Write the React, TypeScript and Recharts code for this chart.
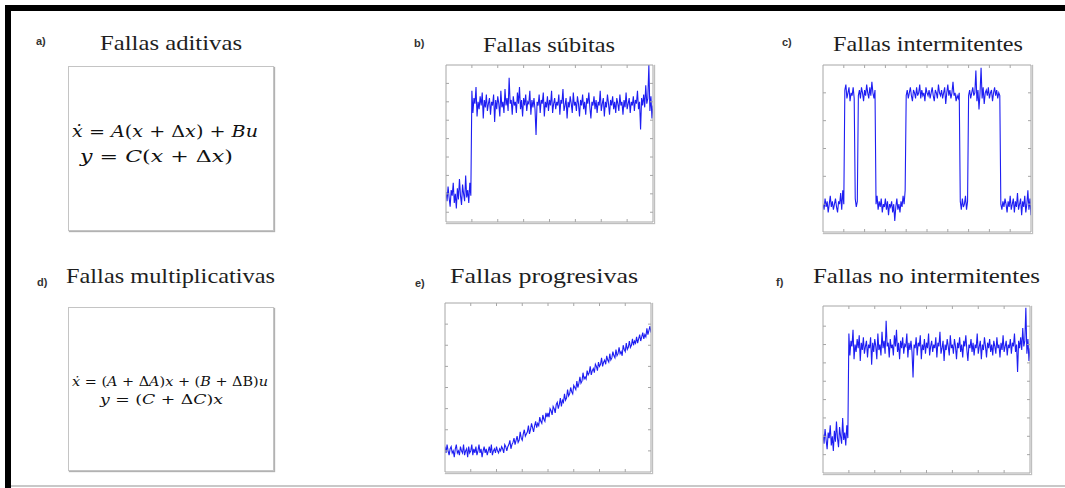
import { LineChart, Line, XAxis, YAxis } from 'recharts';

// b) / f) sudden fault: low level up to t = 1, then high level
const SUDDEN_LOW = [
  2.1, 1.6, 2.4, 1.8, 1.3, 2.2, 1.9, 2.6, 1.5, 2.0, 1.2, 2.3, 1.7, 2.8, 1.9, 1.4, 2.5, 2.0, 1.6, 3.0, 1.8, 2.2, 1.5, 2.6, 1.9,
];
const SUDDEN_HIGH = [
  7.6, 6.4, 7.2, 6.9, 7.8, 6.2, 7.0, 6.6, 7.3, 6.8, 7.5, 6.1, 7.1, 6.7, 7.4, 6.5, 6.9, 7.2, 6.3, 7.0,
  6.8, 7.4, 5.9, 7.1, 6.6, 7.3, 6.9, 6.2, 7.6, 6.7, 7.0, 6.4, 7.7, 6.8, 7.2, 6.5, 8.3, 6.9, 7.1, 6.3,
  7.3, 6.8, 7.0, 6.4, 7.5, 6.9, 7.8, 6.6, 7.1, 6.2, 7.2, 6.8, 7.4, 6.5, 7.0, 6.9, 7.6, 6.3, 7.1, 6.7,
  7.2, 6.6, 5.2, 7.0, 6.8, 7.4, 6.4, 7.1, 6.9, 7.5, 6.2, 7.0, 6.7, 7.3, 6.5, 7.1, 6.8, 7.6, 6.4, 6.9,
  7.2, 6.6, 7.0, 6.8, 7.4, 6.3, 7.1, 6.9, 7.7, 6.5, 6.8, 7.2, 6.1, 7.0, 6.7, 7.3, 6.9, 6.4, 7.5, 6.8,
  7.0, 6.5, 7.3, 6.9, 6.2, 7.1, 6.8, 7.4, 6.6, 7.0, 6.3, 7.2, 6.9, 7.5, 6.7, 6.1, 7.0, 6.8, 7.3, 6.6,
  7.1, 6.4, 7.0, 6.8, 7.6, 6.5, 6.9, 7.2, 6.2, 7.0, 6.7, 7.4, 6.9, 6.3, 7.1, 6.8, 7.3, 6.6, 7.0, 6.4,
  7.2, 6.9, 6.5, 7.4, 6.8, 7.0, 6.3, 7.1, 6.7, 7.5, 6.6, 6.9, 7.2, 6.4, 7.0, 6.8, 7.3, 6.5, 7.1, 6.9,
  7.6, 6.6, 7.0, 5.5, 7.2, 6.8, 7.4, 6.7, 7.9, 6.9, 7.2, 9.0, 6.5, 7.3, 6.1, 6.8,
];
const suddenValues = [...SUDDEN_LOW, ...SUDDEN_HIGH];

// c) intermittent fault, segment by segment
const INT_LOW_1 = [1.0, 0.8, 1.2, 0.9, 1.1, 0.7, 1.0, 1.3, 0.9, 1.1, 0.8, 1.0, 1.2, 0.9, 0.7, 1.1, 1.0, 1.4, 0.8, 1.5, 1.0];
const INT_HIGH_1 = [5.1, 5.3, 4.8, 5.0, 5.2, 4.7, 5.0, 4.9, 5.2, 4.8];
const INT_BLIP_1 = [1.2, 0.9, 1.1];
const INT_HIGH_2 = [4.9, 5.1, 4.8, 5.2, 5.0, 4.7, 5.1, 4.9, 5.3, 5.0, 4.8, 5.2, 4.9, 5.4, 5.0, 4.8, 5.1];
const INT_LOW_2 = [
  1.0, 1.3, 0.8, 1.1, 0.9, 1.2, 0.7, 1.0, 0.9, 1.2, 0.8, 1.1, 0.6, 1.0, 0.9, 1.1, 0.7, 1.0, 0.4, 0.9,
  1.2, 0.8, 1.0, 0.7, 1.1, 0.9, 1.3, 1.0, 1.5,
];
const INT_HIGH_3 = [
  4.9, 5.1, 4.8, 5.0, 5.2, 4.9, 4.7, 5.1, 5.0, 4.8, 5.2, 4.9, 5.0, 5.3, 4.8, 5.1, 4.9, 5.0, 4.7, 5.2,
  5.0, 4.9, 5.1, 4.8, 5.0, 5.2, 4.9, 4.7, 5.1, 5.0, 4.8, 5.3, 5.0, 4.9, 5.1, 4.8, 5.0, 5.2, 4.6, 5.0,
  5.3, 4.9, 5.1, 4.8, 5.0, 5.4, 4.9, 5.0, 4.7, 4.9, 4.8, 5.0,
];
const INT_BLIP_2 = [1.1, 0.8, 1.2, 0.9, 1.0, 1.3, 0.8, 1.1];
const INT_HIGH_4 = [
  4.9, 5.1, 4.8, 5.0, 5.2, 4.9, 5.0, 5.8, 4.7, 5.1, 4.4, 5.0, 5.9, 4.8, 5.2, 4.6, 5.0, 5.1, 4.9, 5.2,
  4.8, 5.0, 5.1, 4.7, 5.0, 5.2, 4.9, 5.1, 4.8, 5.0, 4.9,
];
const INT_LOW_4 = [
  1.0, 0.8, 1.1, 0.9, 1.2, 1.0, 0.7, 1.1, 0.9, 1.3, 0.8, 1.0, 1.2, 0.7, 1.1, 0.9, 1.4, 0.8, 1.0, 1.2,
  0.6, 1.1, 0.9, 1.3, 0.7, 1.0, 1.5, 0.8, 1.2, 0.6,
];
const intermittentValues = [
  ...INT_LOW_1, ...INT_HIGH_1, ...INT_BLIP_1, ...INT_HIGH_2, ...INT_LOW_2,
  ...INT_HIGH_3, ...INT_BLIP_2, ...INT_HIGH_4, ...INT_LOW_4,
];

// e) progressive fault
const progressiveValues = [
  1.2, 0.9, 1.3, 1.0, 0.8, 1.1, 1.2, 0.9, 1.0, 0.7,
  1.1, 1.3, 0.9, 1.0, 0.8, 1.2, 1.0, 0.9, 1.3, 0.8,
  1.0, 1.1, 0.7, 1.2, 0.9, 1.0, 1.3, 0.8, 1.1, 0.9,
  1.2, 0.8, 1.0, 1.3, 0.9, 1.1, 0.7, 1.0, 1.2, 0.9,
  1.1, 0.8, 1.0, 1.2, 0.9, 1.3, 0.8, 1.0, 1.1, 0.9,
  1.2, 1.0, 0.9, 1.1, 1.0, 1.2, 1.1, 0.9, 1.3, 1.2,
  1.0, 1.2, 1.3, 1.5, 1.1, 1.3, 1.4, 1.6, 1.3, 1.5,
  1.7, 1.4, 1.5, 1.9, 1.6, 1.5, 1.8, 2.0, 1.7, 1.8,
  1.9, 2.2, 1.8, 2.0, 2.3, 2.1, 1.9, 2.2, 2.4, 2.1,
  2.3, 2.2, 2.6, 2.4, 2.3, 2.7, 2.5, 2.4, 2.8, 2.6,
  2.8, 2.6, 3.0, 2.9, 2.7, 3.1, 3.0, 2.8, 3.2, 3.3,
  3.0, 3.2, 3.5, 3.1, 3.4, 3.3, 3.7, 3.4, 3.5, 3.9,
  3.6, 3.7, 4.0, 3.8, 3.7, 4.1, 4.0, 3.9, 4.3, 4.0,
  4.2, 4.5, 4.2, 4.3, 4.7, 4.4, 4.5, 4.4, 4.8, 4.6,
  4.7, 5.0, 4.6, 4.8, 4.9, 4.7, 5.1, 5.0, 4.8, 5.2,
  5.0, 5.1, 5.4, 5.0, 5.2, 5.3, 5.1, 5.5, 5.3, 5.2,
  5.6, 5.3, 5.4, 5.7, 5.5, 5.4, 5.8, 5.5, 5.6, 5.9,
  5.6, 5.7, 5.5, 6.0, 5.8, 5.7, 6.1, 5.8, 5.9, 6.2,
  5.9, 6.0, 6.3, 6.0, 6.2, 6.1, 6.4, 6.1, 6.3, 6.5,
  6.2, 6.4, 6.6, 6.3, 6.5, 6.4, 6.8, 6.5, 6.7, 6.9,
  6.6,
];

const TICKS_8 = [1, 2, 3, 4, 5, 6, 7];
const TICKS_10 = [1, 2, 3, 4, 5, 6, 7, 8, 9];
const Y_TICKS_SUDDEN = [1, 2, 3, 4, 5, 6, 7, 8];
const Y_TICKS_INT = [1, 2, 3, 4, 5];
const Y_TICKS_PROG = [1, 2, 3, 4, 5, 6, 7];

const BLUE = '#1e1ef2';
const AXIS = '#a6a6a6';

const EmptyTick = () => <g />;

function SignalPanel({ left, top, width, height, values, xMax, yDomain, xTicks, yTicks }) {
  const step = xMax / (values.length - 1);
  const rows = values.map((v, i) => ({ t: i * step, v }));
  const axisProps = {
    tick: EmptyTick,
    tickSize: 3,
    mirror: true,
    stroke: AXIS,
    allowDataOverflow: true,
    interval: 0,
  };
  return (
    <div
      style={{
        position: 'absolute',
        left: left - 1,
        top: top - 1,
        boxShadow: '1px 1px 1px rgba(0,0,0,0.25)',
      }}
    >
      <LineChart width={width + 2} height={height + 2} data={rows} margin={{ top: 1, right: 1, bottom: 1, left: 1 }}>
        <XAxis xAxisId="b" dataKey="t" type="number" domain={[0, xMax]} ticks={xTicks} {...axisProps} />
        <XAxis xAxisId="t" orientation="top" dataKey="t" type="number" domain={[0, xMax]} ticks={xTicks} {...axisProps} />
        <YAxis yAxisId="l" type="number" domain={yDomain} ticks={yTicks} {...axisProps} />
        <YAxis yAxisId="r" orientation="right" type="number" domain={yDomain} ticks={yTicks} {...axisProps} />
        <Line
          xAxisId="b"
          yAxisId="l"
          type="linear"
          dataKey="v"
          stroke={BLUE}
          strokeWidth={1.1}
          dot={false}
          isAnimationActive={false}
        />
      </LineChart>
    </div>
  );
}

function EqBox({ left, top, width, height }) {
  return (
    <div
      style={{
        position: 'absolute',
        left,
        top,
        width,
        height,
        boxSizing: 'border-box',
        border: '1px solid #c4c4c4',
        boxShadow: '1px 1px 1px rgba(0,0,0,0.3)',
      }}
    />
  );
}

const titleFont = { fontFamily: '"Liberation Serif", serif', fontSize: 21, fill: '#1e1e1e' };
const tagFont = { fontFamily: '"Liberation Sans", sans-serif', fontSize: 11, fontWeight: 700, fill: '#333' };
const eqFont = { fontFamily: '"DejaVu Serif", serif', fill: '#111' };

function Title({ x, y, w, children }) {
  return (
    <text x={x} y={y} textLength={w} lengthAdjust="spacingAndGlyphs" style={titleFont}>
      {children}
    </text>
  );
}

const I = ({ children }) => <tspan fontStyle="italic">{children}</tspan>;

export default function App() {
  return (
    <div style={{ position: 'absolute', left: 0, top: 0, width: 1065, height: 488, background: '#fff', overflow: 'hidden' }}>
      <svg width={1065} height={488} style={{ position: 'absolute', left: 0, top: 0 }}>
        {/* frame */}
        <rect x={5} y={5} width={1060} height={6} fill="#000" />
        <rect x={5} y={5} width={6} height={483} fill="#000" />
        <rect x={11} y={485} width={1054} height={2} fill="#c8c8c8" />

        <text x={36} y={45} style={tagFont}>a)</text>
        <text x={414} y={47} style={tagFont}>b)</text>
        <text x={782} y={46} style={tagFont}>c)</text>
        <text x={37} y={286} style={tagFont}>d)</text>
        <text x={415} y={287} style={tagFont}>e)</text>
        <text x={776} y={286} style={tagFont}>f)</text>

        <Title x={100} y={50} w={142}>Fallas aditivas</Title>
        <Title x={483} y={52} w={132}>Fallas súbitas</Title>
        <Title x={833} y={51} w={190}>Fallas intermitentes</Title>
        <Title x={66} y={283} w={209}>Fallas multiplicativas</Title>
        <Title x={450} y={283} w={188}>Fallas progresivas</Title>
        <Title x={813} y={283} w={227}>Fallas no intermitentes</Title>

        <text x={72} y={137} textLength={186} lengthAdjust="spacingAndGlyphs" style={{ ...eqFont, fontSize: 16 }}>
          <I>ẋ</I> = <I>A</I>(<I>x</I> + Δ<I>x</I>) + <I>Bu</I>
        </text>
        <text x={80} y={162} textLength={153} lengthAdjust="spacingAndGlyphs" style={{ ...eqFont, fontSize: 16 }}>
          <I>y</I> = <I>C</I>(<I>x</I> + Δ<I>x</I>)
        </text>
        <text x={72} y={386} textLength={196} lengthAdjust="spacingAndGlyphs" style={{ ...eqFont, fontSize: 13 }}>
          <I>ẋ</I> = (<I>A</I> + Δ<I>A</I>)<I>x</I> + (<I>B</I> + ΔB)<I>u</I>
        </text>
        <text x={100} y={404} textLength={123} lengthAdjust="spacingAndGlyphs" style={{ ...eqFont, fontSize: 13 }}>
          <I>y</I> = (<I>C</I> + Δ<I>C</I>)<I>x</I>
        </text>
      </svg>

      <EqBox left={68} top={66} width={206} height={165} />
      <EqBox left={68} top={307} width={206} height={164} />

      <SignalPanel left={446} top={65} width={207} height={157} values={suddenValues} xMax={8} yDomain={[0.47, 9]} xTicks={TICKS_8} yTicks={Y_TICKS_SUDDEN} />
      <SignalPanel left={823} top={65} width={208} height={167} values={intermittentValues} xMax={10} yDomain={[0, 6]} xTicks={TICKS_10} yTicks={Y_TICKS_INT} />
      <SignalPanel left={445} top={303} width={206} height={169} values={progressiveValues} xMax={8} yDomain={[0, 8]} xTicks={TICKS_8} yTicks={Y_TICKS_PROG} />
      <SignalPanel left={823} top={306} width={207} height={167} values={suddenValues} xMax={8} yDomain={[0, 9.1]} xTicks={TICKS_8} yTicks={Y_TICKS_SUDDEN} />
    </div>
  );
}
